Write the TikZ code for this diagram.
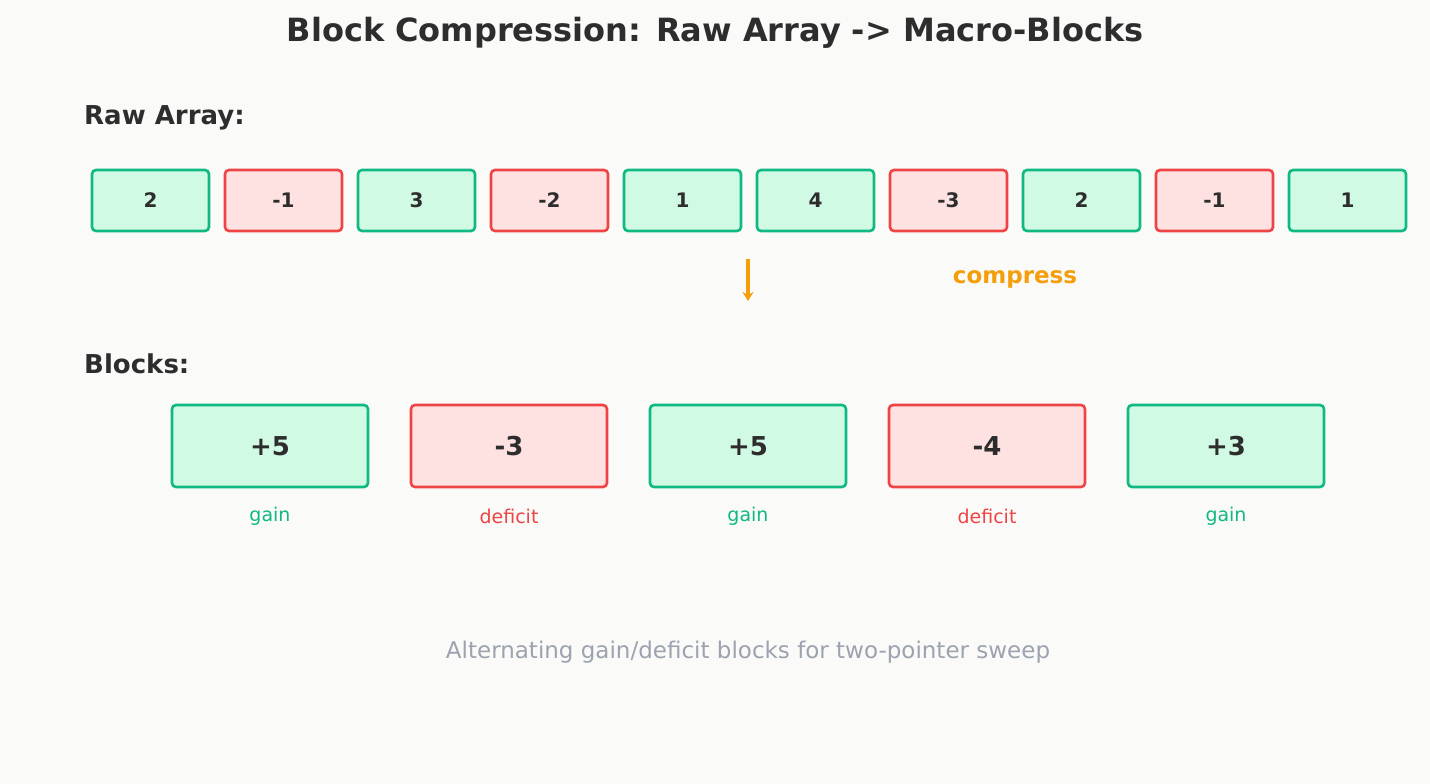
\documentclass[tikz,border=0pt]{standalone}
\usepackage{fontspec}
\setmainfont{DejaVu Sans}
\usetikzlibrary{arrows.meta}
\definecolor{gS}{HTML}{10B981}\definecolor{gF}{HTML}{D1FAE5}
\definecolor{rS}{HTML}{EF4444}\definecolor{rF}{HTML}{FEE2E2}
\definecolor{tx}{HTML}{2D2D2D}\definecolor{og}{HTML}{F59E0B}
\definecolor{gy}{HTML}{9CA3AF}\definecolor{bg}{HTML}{FAFAF9}
\begin{document}
\begin{tikzpicture}[x=1pt,y=-1pt,
 cell/.style={draw,line width=2.6pt,rounded corners=4pt,minimum width=117pt,minimum height=61pt,inner sep=0pt,text=tx,font=\fontsize{20}{24}\selectfont\bfseries},
 blk/.style={draw,line width=2.6pt,rounded corners=4pt,minimum width=196pt,minimum height=82pt,inner sep=0pt,text=tx,font=\fontsize{26}{30}\selectfont\bfseries},
 posv/.style={draw=gS,fill=gF},negv/.style={draw=rS,fill=rF},
 lab/.style={font=\fontsize{19}{22}\selectfont},
 hd/.style={anchor=west,text=tx,font=\fontsize{26}{30}\selectfont\bfseries}]
\fill[bg] (0,0) rectangle (1430,784);
\useasboundingbox (0,0) rectangle (1430,784);
\node[text=tx,font=\fontsize{32}{36}\selectfont\bfseries] (title) at (715,33) {Block Compression: Raw Array -> Macro-Blocks};
\node[hd,inner sep=0pt] (raw) at (84,118) {Raw Array:};
\node[hd,inner sep=0pt] (blocks) at (84,364) {Blocks:};
\foreach \v/\s [count=\i from 0] in {2/posv,-1/negv,3/posv,-2/negv,1/posv,4/posv,-3/negv,2/posv,-1/negv,1/posv}
  \node[cell,\s] (c\i) at (150.5+133*\i,200.5) {\v};
\coordinate (a1) at (748,259); \coordinate (a2) at (748,301);
\draw[og,line width=3.5pt,-{Stealth[length=9pt,width=11pt]}] (a1) -- (a2);
\node[text=og,font=\fontsize{23}{26}\selectfont\bfseries] (cmp) at (1015,279) {compress};
\foreach \v/\s/\l/\c [count=\i from 0] in {+5/posv/gain/gS,-3/negv/deficit/rS,+5/posv/gain/gS,-4/negv/deficit/rS,+3/posv/gain/gS}{
  \node[blk,\s] (b\i) at (270+239*\i,446) {\v};
  \node[lab,text=\c] (l\i) at (270+239*\i,516) {\l};}
\node[text=gy,font=\fontsize{23}{26}\selectfont] (foot) at (748,652) {Alternating gain/deficit blocks for two-pointer sweep};
\end{tikzpicture}
\end{document}
